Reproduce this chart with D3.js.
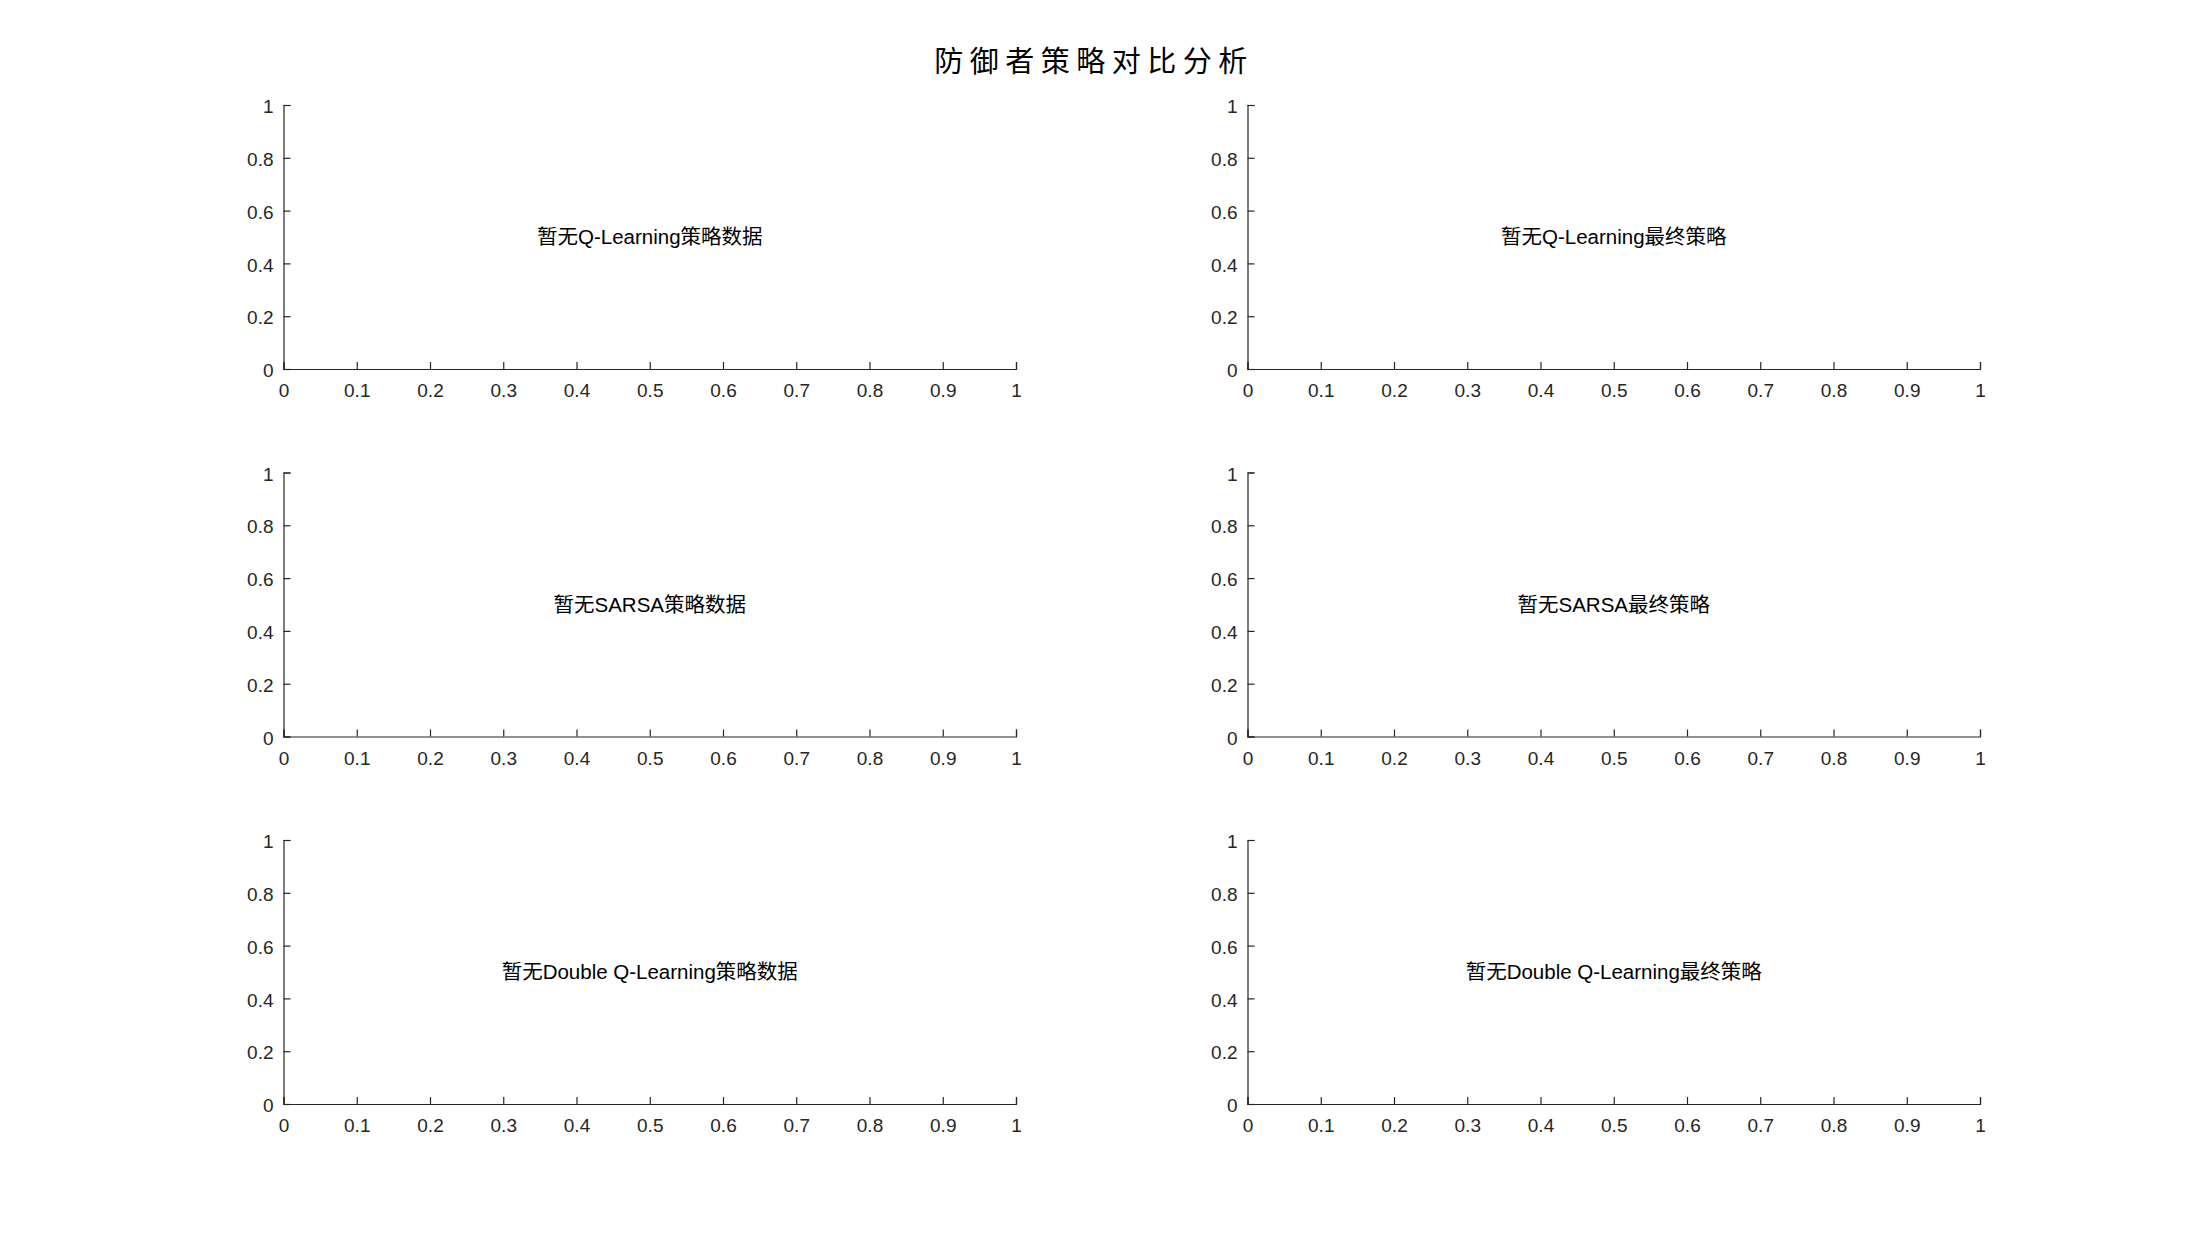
<!DOCTYPE html>
<html>
<head>
<meta charset="utf-8">
<script src="https://cdn.jsdelivr.net/npm/d3@7"></script>
<style>
html,body{margin:0;padding:0;background:#fff;}
svg{display:block;}
</style>
</head>
<body>
<svg id="chart" width="2187" height="1238"></svg>
<script>
const chartTitle = "防御者策略对比分析";
const leftMessages = ["暂无Q-Learning策略数据", "暂无SARSA策略数据", "暂无Double Q-Learning策略数据"];
const rightMessages = ["暂无Q-Learning最终策略", "暂无SARSA最终策略", "暂无Double Q-Learning最终策略"];
const xTicks = [0, 0.1, 0.2, 0.3, 0.4, 0.5, 0.6, 0.7, 0.8, 0.9, 1];
const yTicks = [0, 0.2, 0.4, 0.6, 0.8, 1];
const xDomain = [0, 1];
const yDomain = [0, 1];

const svg = d3.select("#chart");
const latin = "'Liberation Sans', Arial, 'Noto Sans CJK SC', sans-serif";
const axisColor = "#262626";

svg.append("text")
  .attr("x", 1094).attr("y", 72)
  .attr("text-anchor", "middle")
  .style("font-family", "'Noto Sans CJK SC', sans-serif")
  .style("font-size", "29px")
  .style("letter-spacing", "6.5px")
  .style("fill", "#000")
  .text(chartTitle);

const colX = [283.5, 1247.5];
const rowY = [105, 472.5, 840];
const pw = 732.5, ph = 264;

const panels = [];
for (let r = 0; r < 3; r++) {
  panels.push({col: 0, row: r, msg: leftMessages[r]});
  panels.push({col: 1, row: r, msg: rightMessages[r]});
}

panels.forEach(p => {
  const g = svg.append("g").attr("transform", `translate(${colX[p.col]},${rowY[p.row]})`);
  const x = d3.scaleLinear().domain(xDomain).range([0, pw]);
  const y = d3.scaleLinear().domain(yDomain).range([ph, 0]);

  const xAxis = d3.axisBottom(x).tickValues(xTicks).tickFormat(d3.format("~g")).tickSizeInner(-7).tickSizeOuter(-7).tickPadding(15);
  const gx = g.append("g").attr("transform", `translate(0,${ph})`).call(xAxis);
  const yAxis = d3.axisLeft(y).tickValues(yTicks).tickFormat(d3.format("~g")).tickSizeInner(-7).tickSizeOuter(-7).tickPadding(10);
  const gy = g.append("g").call(yAxis);

  [gx, gy].forEach(a => {
    a.selectAll("path.domain").attr("stroke", axisColor).attr("stroke-width", 1.2);
    a.selectAll(".tick line").attr("stroke", axisColor).attr("stroke-width", 1.2);
    a.selectAll(".tick text").attr("fill", axisColor)
      .style("font-family", latin).style("font-size", "19px");
  });
  gy.selectAll(".tick text").attr("dy", "0.4em");
  gx.selectAll(".tick text").attr("dy", "0.71em");

  g.append("text")
    .attr("x", x(0.5)).attr("y", y(0.5))
    .attr("dy", "0.35em")
    .attr("text-anchor", "middle")
    .style("font-family", latin)
    .style("font-size", "20.5px")
    .style("fill", "#000")
    .text(p.msg);
});
</script>
</body>
</html>
